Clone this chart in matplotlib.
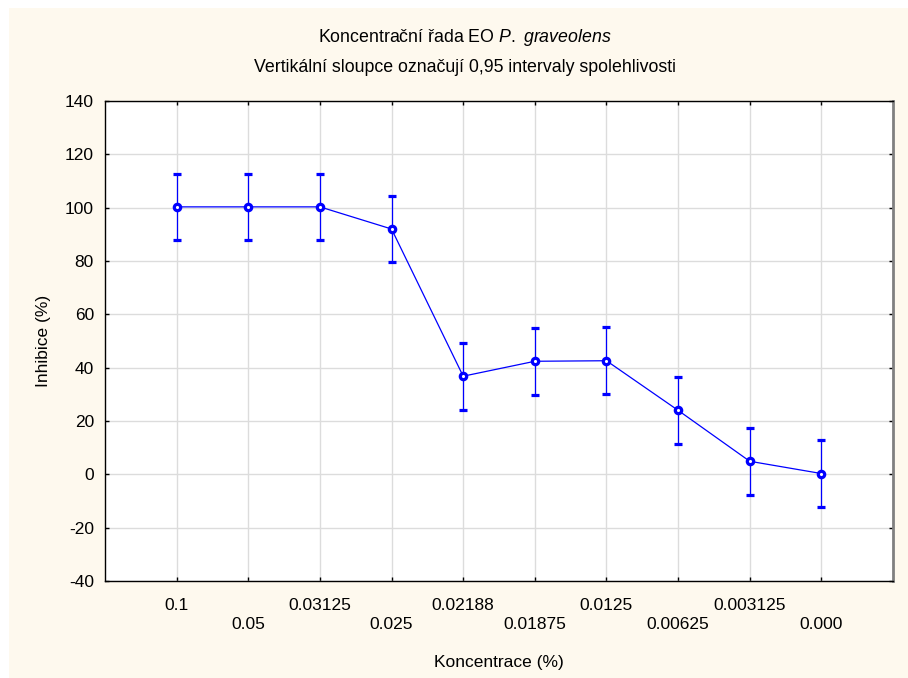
import numpy as np
import matplotlib.pyplot as plt
from matplotlib.patches import Rectangle

plt.rcParams['font.family'] = ['Liberation Sans', 'DejaVu Sans']
plt.rcParams['mathtext.fontset'] = 'custom'
plt.rcParams['mathtext.rm'] = 'Liberation Sans'
plt.rcParams['mathtext.it'] = 'Liberation Sans:italic'
plt.rcParams['axes.unicode_minus'] = False

# data
concentrations = ['0.1', '0.05', '0.03125', '0.025', '0.02188',
                  '0.01875', '0.0125', '0.00625', '0.003125', '0.000']
inhibition = [100.3, 100.3, 100.3, 92.0, 36.8, 42.4, 42.6, 24.0, 4.9, 0.3]
ci_half = [12.5, 12.5, 12.5, 12.5, 12.5, 12.5, 12.5, 12.5, 12.5, 12.5]

fs = 12.5

fig = plt.figure(figsize=(9.08, 6.78), dpi=100)
fig.patch.set_facecolor('white')
# cream background panel
fig.patches.append(Rectangle((9/908, 0), 1 - 9/908, 1 - 8/678,
                             transform=fig.transFigure, facecolor='#fef9ee',
                             edgecolor='none', zorder=-10))

ax = fig.add_axes([105/908, 97/678, 788/908, 480/678])
ax.set_facecolor('white')

x = np.arange(len(concentrations))
ax.errorbar(x, inhibition, yerr=ci_half, color='#0000ff', lw=0.9,
            elinewidth=0.9, capsize=3, capthick=0.8, marker='o',
            markersize=4.6, markerfacecolor='white', markeredgecolor='#0000ff',
            markeredgewidth=2.3, zorder=3)

ax.set_xlim(-1, 10)
ax.set_ylim(-40, 140)
ax.set_yticks(np.arange(-40, 141, 20))
ax.set_xticks(x)
ax.set_xticklabels([c if i % 2 == 0 else '\n' + c for i, c in enumerate(concentrations)],
                   linespacing=1.35)
ax.grid(True, color='#dcdcdc', lw=1.0, zorder=0)
ax.tick_params(direction='in', length=3, width=1, top=True, right=True,
               labelsize=fs, colors='black')
ax.tick_params(axis='x', pad=12)
ax.tick_params(axis='y', pad=8)
for s in ['left', 'bottom', 'top']:
    ax.spines[s].set_color('black')
    ax.spines[s].set_linewidth(1.0)
ax.spines['right'].set_color('#808080')
ax.spines['right'].set_linewidth(2.0)

ax.set_xlabel('Koncentrace (%)', fontsize=fs, labelpad=17)
ax.set_ylabel('Inhibice (%)', fontsize=fs, labelpad=10)

fig.text(465/908, 1 - 38/678, 'Koncentrační řada EO $\\it{P.\\ graveolens}$',
         ha='center', va='center', fontsize=12.8)
fig.text(465/908, 1 - 67/678, 'Vertikální sloupce označují 0,95 intervaly spolehlivosti',
         ha='center', va='center', fontsize=12.8)

plt.savefig('out.png', dpi=100, facecolor=fig.get_facecolor())
